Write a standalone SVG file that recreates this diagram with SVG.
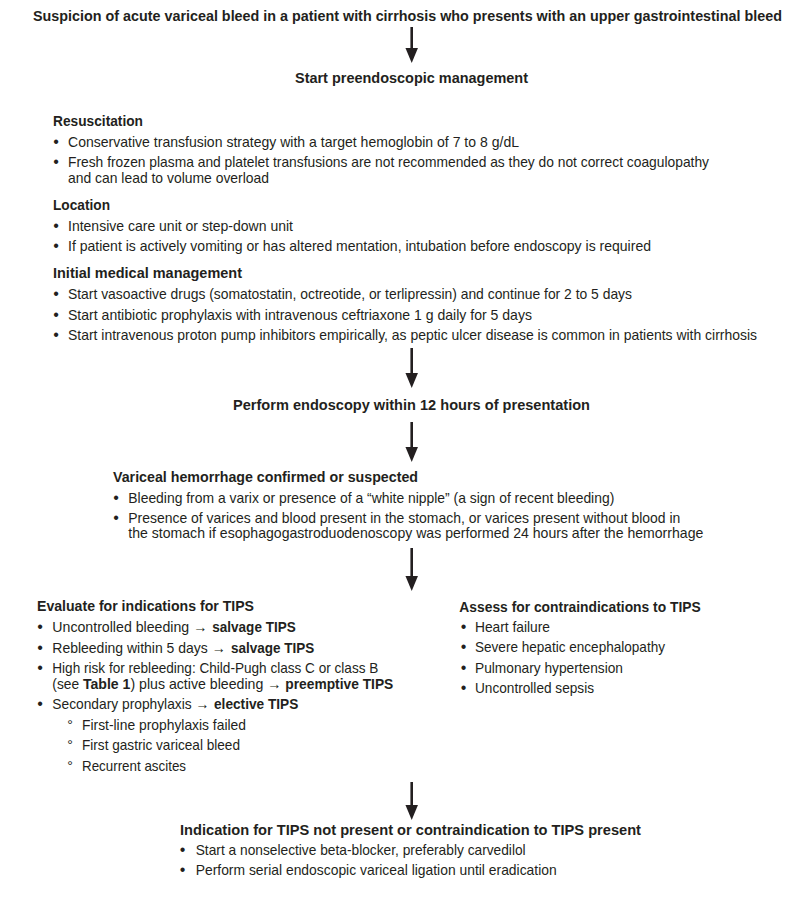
<svg xmlns="http://www.w3.org/2000/svg" width="804" height="903" viewBox="0 0 804 903">
<style>
.h{font-family:"Liberation Sans",Arial,sans-serif;font-weight:bold;font-size:15.2px;fill:#231f20}
.ti{font-size:14.6px}
.t{font-family:"Liberation Sans",Arial,sans-serif;font-size:14.8px;fill:#231f20}
.k{font-family:"Liberation Sans",Arial,sans-serif;font-size:14.8px;font-weight:bold;fill:#231f20}
.b{font-family:"Liberation Sans",Arial,sans-serif;font-size:16px;fill:#231f20;text-anchor:middle}
.s{font-family:"Liberation Sans",Arial,sans-serif;font-size:14px;fill:#231f20;text-anchor:middle}
.c{stroke:#231f20;stroke-width:2.6;fill:none;marker-end:url(#ah)}
</style>
<defs>
<marker id="ah" markerUnits="userSpaceOnUse" viewBox="0 0 15 12.5" refX="0" refY="6.25" markerWidth="15" markerHeight="12.5" orient="auto">
<path d="M0,0 L15,6.25 L0,12.5 Z" fill="#231f20"/>
</marker>
</defs>
<rect width="804" height="903" fill="#ffffff"/>

<g id="connectors">
<path class="c" d="M411.7,27 V48"/>
<path class="c" d="M411.7,348 V373"/>
<path class="c" d="M411.7,422 V447"/>
<path class="c" d="M411.7,548 V576"/>
<path class="c" d="M411.7,782 V805"/>
</g>

<g id="n-suspicion">
<text class="h ti" x="33" y="21" textLength="749" lengthAdjust="spacingAndGlyphs">Suspicion of acute variceal bleed in a patient with cirrhosis who presents with an upper gastrointestinal bleed</text>
</g>

<g id="n-start">
<text class="h" x="295" y="83" textLength="233" lengthAdjust="spacingAndGlyphs">Start preendoscopic management</text>
</g>

<g id="n-preendoscopic">
<text class="h" x="53" y="126" textLength="90" lengthAdjust="spacingAndGlyphs">Resuscitation</text>
<text class="b" x="56" y="146.5">•</text>
<text class="t" x="68" y="146.5" textLength="451" lengthAdjust="spacingAndGlyphs">Conservative transfusion strategy with a target hemoglobin of 7 to 8 g/dL</text>
<text class="b" x="56" y="166.5">•</text>
<text class="t" x="68" y="166.5" textLength="641" lengthAdjust="spacingAndGlyphs">Fresh frozen plasma and platelet transfusions are not recommended as they do not correct coagulopathy</text>
<text class="t" x="68" y="182.5" textLength="201" lengthAdjust="spacingAndGlyphs">and can lead to volume overload</text>
<text class="h" x="53" y="210" textLength="57" lengthAdjust="spacingAndGlyphs">Location</text>
<text class="b" x="56" y="230.5">•</text>
<text class="t" x="68" y="230.5" textLength="225" lengthAdjust="spacingAndGlyphs">Intensive care unit or step-down unit</text>
<text class="b" x="56" y="251">•</text>
<text class="t" x="68" y="251" textLength="583" lengthAdjust="spacingAndGlyphs">If patient is actively vomiting or has altered mentation, intubation before endoscopy is required</text>
<text class="h" x="53" y="278" textLength="189" lengthAdjust="spacingAndGlyphs">Initial medical management</text>
<text class="b" x="56" y="299">•</text>
<text class="t" x="68" y="299" textLength="564" lengthAdjust="spacingAndGlyphs">Start vasoactive drugs (somatostatin, octreotide, or terlipressin) and continue for 2 to 5 days</text>
<text class="b" x="56" y="319.5">•</text>
<text class="t" x="68" y="319.5" textLength="464" lengthAdjust="spacingAndGlyphs">Start antibiotic prophylaxis with intravenous ceftriaxone 1 g daily for 5 days</text>
<text class="b" x="56" y="340">•</text>
<text class="t" x="68" y="340" textLength="689" lengthAdjust="spacingAndGlyphs">Start intravenous proton pump inhibitors empirically, as peptic ulcer disease is common in patients with cirrhosis</text>
</g>

<g id="n-endoscopy">
<text class="h" x="233" y="410" textLength="357" lengthAdjust="spacingAndGlyphs">Perform endoscopy within 12 hours of presentation</text>
</g>

<g id="n-variceal">
<text class="h" x="113" y="481.5" textLength="305" lengthAdjust="spacingAndGlyphs">Variceal hemorrhage confirmed or suspected</text>
<text class="b" x="116" y="502.5">•</text>
<text class="t" x="128.3" y="502.5" textLength="486" lengthAdjust="spacingAndGlyphs">Bleeding from a varix or presence of a “white nipple” (a sign of recent bleeding)</text>
<text class="b" x="116" y="523">•</text>
<text class="t" x="128.3" y="523" textLength="552" lengthAdjust="spacingAndGlyphs">Presence of varices and blood present in the stomach, or varices present without blood in</text>
<text class="t" x="128.3" y="538" textLength="575" lengthAdjust="spacingAndGlyphs">the stomach if esophagogastroduodenoscopy was performed 24 hours after the hemorrhage</text>
</g>

<g id="n-indications">
<text class="h" x="37" y="611" textLength="217" lengthAdjust="spacingAndGlyphs">Evaluate for indications for TIPS</text>
<text class="b" x="40" y="631.5">•</text>
<text class="t" x="52.3" y="631.5" textLength="155" lengthAdjust="spacingAndGlyphs">Uncontrolled bleeding →</text>
<text class="k" x="212.3" y="631.5" textLength="83.4" lengthAdjust="spacingAndGlyphs">salvage TIPS</text>
<text class="b" x="40" y="652.5">•</text>
<text class="t" x="52.3" y="652.5" textLength="173.4" lengthAdjust="spacingAndGlyphs">Rebleeding within 5 days →</text>
<text class="k" x="231" y="652.5" textLength="83.3" lengthAdjust="spacingAndGlyphs">salvage TIPS</text>
<text class="b" x="40" y="673">•</text>
<text class="t" x="52.3" y="673" textLength="326" lengthAdjust="spacingAndGlyphs">High risk for rebleeding: Child-Pugh class C or class B</text>
<text class="t" x="52.3" y="688.5" textLength="26.8" lengthAdjust="spacingAndGlyphs">(see</text>
<text class="k" x="82.9" y="688.5" textLength="47.5" lengthAdjust="spacingAndGlyphs">Table 1</text>
<text class="t" x="130.4" y="688.5" textLength="151" lengthAdjust="spacingAndGlyphs">) plus active bleeding →</text>
<text class="k" x="285.3" y="688.5" textLength="108" lengthAdjust="spacingAndGlyphs">preemptive TIPS</text>
<text class="b" x="40" y="708.5">•</text>
<text class="t" x="52.3" y="708.5" textLength="157" lengthAdjust="spacingAndGlyphs">Secondary prophylaxis →</text>
<text class="k" x="214" y="708.5" textLength="84.3" lengthAdjust="spacingAndGlyphs">elective TIPS</text>
<text class="s" x="70" y="729.5">°</text>
<text class="t" x="82" y="729.5" textLength="164" lengthAdjust="spacingAndGlyphs">First-line prophylaxis failed</text>
<text class="s" x="70" y="750">°</text>
<text class="t" x="82" y="750" textLength="158" lengthAdjust="spacingAndGlyphs">First gastric variceal bleed</text>
<text class="s" x="70" y="770.5">°</text>
<text class="t" x="82" y="770.5" textLength="104" lengthAdjust="spacingAndGlyphs">Recurrent ascites</text>
</g>

<g id="n-contraindications">
<text class="h" x="459.3" y="611.5" textLength="241.5" lengthAdjust="spacingAndGlyphs">Assess for contraindications to TIPS</text>
<text class="b" x="463.5" y="632">•</text>
<text class="t" x="475" y="632" textLength="75" lengthAdjust="spacingAndGlyphs">Heart failure</text>
<text class="b" x="463.5" y="652.3">•</text>
<text class="t" x="475" y="652.3" textLength="190" lengthAdjust="spacingAndGlyphs">Severe hepatic encephalopathy</text>
<text class="b" x="463.5" y="672.7">•</text>
<text class="t" x="475" y="672.7" textLength="148" lengthAdjust="spacingAndGlyphs">Pulmonary hypertension</text>
<text class="b" x="463.5" y="693">•</text>
<text class="t" x="475" y="693" textLength="119" lengthAdjust="spacingAndGlyphs">Uncontrolled sepsis</text>
</g>

<g id="n-no-tips">
<text class="h" x="180" y="834.5" textLength="461" lengthAdjust="spacingAndGlyphs">Indication for TIPS not present or contraindication to TIPS present</text>
<text class="b" x="182.5" y="854.5">•</text>
<text class="t" x="195.7" y="854.5" textLength="330" lengthAdjust="spacingAndGlyphs">Start a nonselective beta-blocker, preferably carvedilol</text>
<text class="b" x="182.5" y="874.5">•</text>
<text class="t" x="195.7" y="874.5" textLength="361" lengthAdjust="spacingAndGlyphs">Perform serial endoscopic variceal ligation until eradication</text>
</g>
</svg>
